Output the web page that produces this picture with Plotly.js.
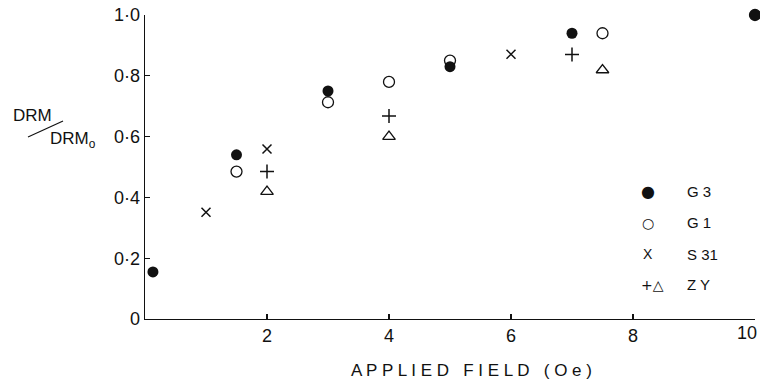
<!DOCTYPE html>
<html>
<head>
<meta charset="utf-8">
<script src="https://cdn.plot.ly/plotly-3.0.1.min.js"></script>
<style>html,body{margin:0;padding:0;background:#fff;}#chart{width:760px;height:382px;}</style>
</head>
<body>
<div id="chart"></div>
<script>
// Data (x = applied field in Oe, y = DRM/DRM0)
const g3_x = [0.13, 1.5, 3, 5, 7, 10];
const g3_y = [0.155, 0.54, 0.75, 0.83, 0.94, 1.0];
const g1_x = [1.5, 3, 4, 5, 7.5, 10];
const g1_y = [0.485, 0.713, 0.78, 0.85, 0.94, 1.0];
const s31_x = [1, 2, 6];
const s31_y = [0.351, 0.559, 0.871];
const zyPlus_x = [2, 4, 7];
const zyPlus_y = [0.485, 0.668, 0.87];
const zyTri_x = [2, 4, 7.5];
const zyTri_y = [0.419, 0.60, 0.819];
const xTickVals = [2, 4, 6, 8, 10];
const xTickText = ['2', '4', '6', '8', '10'];
const yTickVals = [0, 0.2, 0.4, 0.6, 0.8, 1.0];
const yTickText = ['0', '0·2', '0·4', '0·6', '0·8', '1·0'];
const legendSymbols = ['●', '○', 'X', '+△'];
const legendLabels = ['G 3', 'G 1', 'S 31', 'Z Y'];

const FONT = 'Liberation Sans, Arial, sans-serif';
const black = '#111';

const traces = [
  {x: zyTri_x, y: zyTri_y, mode: 'markers', cliponaxis: false,
   marker: {symbol: 'triangle-up-open', size: 11, color: black, line: {width: 1.3, color: black}}},
  {x: zyPlus_x, y: zyPlus_y, mode: 'markers', cliponaxis: false,
   marker: {symbol: 'cross-thin-open', size: 10, color: black, line: {width: 1.5, color: black}}},
  {x: s31_x, y: s31_y, mode: 'markers', cliponaxis: false,
   marker: {symbol: 'x-thin-open', size: 9, color: black, line: {width: 1.5, color: black}}},
  {x: g1_x, y: g1_y, mode: 'markers', cliponaxis: false,
   marker: {symbol: 'circle-open', size: 11, color: black, line: {width: 1.3, color: black}}},
  {x: g3_x, y: g3_y, mode: 'markers', cliponaxis: false,
   marker: {symbol: 'circle', size: 11, color: black, line: {width: 0}}}
];

// the last x tick label sits at the page edge: draw it right-aligned so it stays inside
const lastIdx = xTickVals.length - 1;
const axisTickText = xTickText.map((t, i) => i === lastIdx ? '' : t);

// legend built as text annotations (paper coordinates)
const legY = [0.419, 0.317, 0.213, 0.112];
const annotations = [];
legendSymbols.forEach((s, i) => {
  annotations.push({xref: 'paper', yref: 'paper', x: i === 3 ? 0.832 : 0.8246, y: legY[i],
    text: s, showarrow: false, xanchor: 'center', yanchor: 'middle',
    font: {family: i === 2 ? FONT : 'DejaVu Sans, sans-serif', size: i === 0 ? 16 : 14, color: black}});
  annotations.push({xref: 'paper', yref: 'paper', x: 0.886, y: legY[i],
    text: legendLabels[i], showarrow: false, xanchor: 'left', yanchor: 'middle',
    font: {family: FONT, size: 15, color: black}});
});
annotations.push({xref: 'x', yref: 'paper', x: xTickVals[lastIdx], y: -0.046, xshift: 4,
  text: xTickText[lastIdx], showarrow: false, xanchor: 'right', yanchor: 'middle',
  font: {family: FONT, size: 18, color: black}});
// y axis title as fraction DRM / DRM0
annotations.push({xref: 'paper', yref: 'paper', x: -0.1852, y: 0.671, text: 'DRM',
  showarrow: false, xanchor: 'center', yanchor: 'middle', font: {family: FONT, size: 17, color: black}});
annotations.push({xref: 'paper', yref: 'paper', x: -0.118, y: 0.589, text: 'DRM<sub>o</sub>',
  showarrow: false, xanchor: 'center', yanchor: 'middle', font: {family: FONT, size: 17, color: black}});
// x axis title
annotations.push({xref: 'paper', yref: 'paper', x: 0.536, y: -0.168,
  text: 'A P P L I E D   F I E L D   ( O e )',
  showarrow: false, xanchor: 'center', yanchor: 'middle', font: {family: FONT, size: 17, color: black}});

const layout = {
  width: 760, height: 382,
  margin: {l: 145, r: 5, t: 15, b: 63},
  paper_bgcolor: '#fff', plot_bgcolor: '#fff',
  showlegend: false,
  font: {family: FONT, color: black},
  xaxis: {
    range: [0, 10], showgrid: false, zeroline: false,
    showline: true, linecolor: black, linewidth: 1.3, mirror: false,
    ticks: 'inside', ticklen: 5, tickwidth: 1.2, tickcolor: black,
    tickvals: xTickVals, ticktext: axisTickText, ticklabeloverflow: 'allow',
    tickfont: {family: FONT, size: 18, color: black}
  },
  yaxis: {
    range: [0, 1.0], showgrid: false, zeroline: false,
    showline: true, linecolor: black, linewidth: 1.3, mirror: false,
    ticks: 'inside', ticklen: 5, tickwidth: 1.2, tickcolor: black,
    tickvals: yTickVals, ticktext: yTickText, ticklabeloverflow: 'allow',
    tickfont: {family: FONT, size: 18, color: black}
  },
  shapes: [
    {type: 'line', xref: 'paper', yref: 'paper', x0: -0.1918, y0: 0.5987, x1: -0.1344, y1: 0.6513,
     line: {color: black, width: 1.2}}
  ],
  annotations: annotations
};

Plotly.newPlot('chart', traces, layout, {displayModeBar: false, staticPlot: true});
</script>
</body>
</html>
